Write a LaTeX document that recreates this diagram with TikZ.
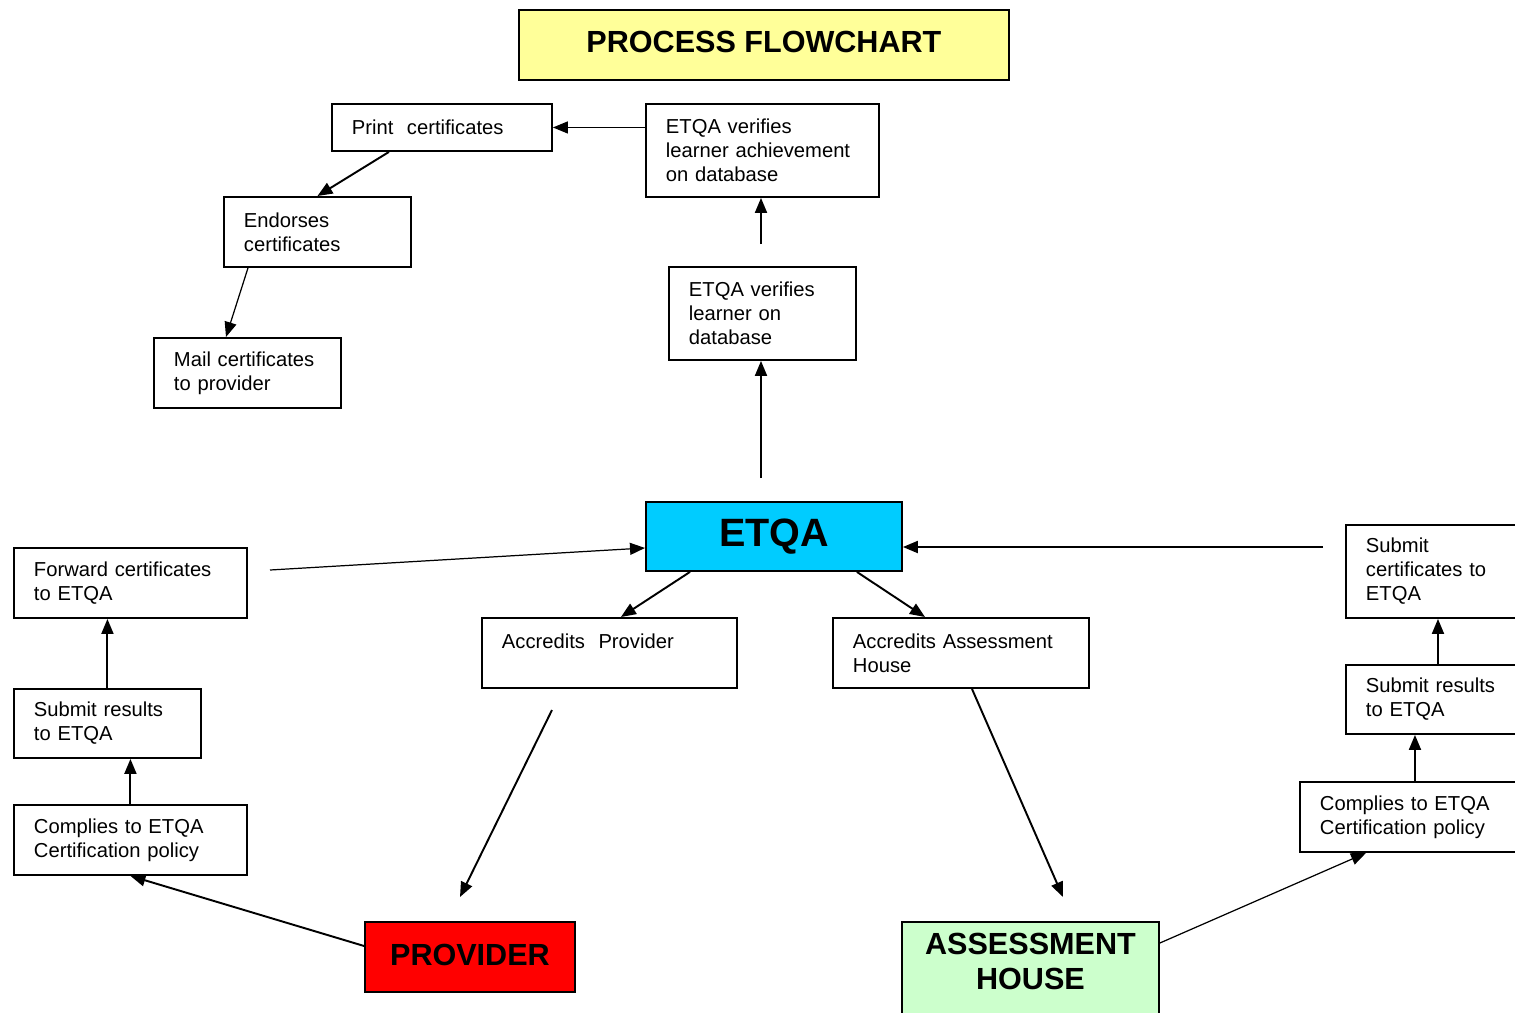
\documentclass[tikz,border=0pt]{standalone}
\usepackage{fontspec}
\setmainfont{Liberation Sans}
\usetikzlibrary{arrows.meta}
\definecolor{titleyellow}{HTML}{FFFF99}
\definecolor{etqablue}{HTML}{00CCFF}
\definecolor{provred}{HTML}{FF0000}
\definecolor{housegreen}{HTML}{CCFFCC}
\begin{document}
\begin{tikzpicture}[
		x={(0.02cm,0cm)},
		y={(0cm,-0.02cm)},
		box/.style={draw=black,line width=1.1pt,anchor=north west,align=left,inner xsep=0.4cm,inner ysep=0pt,font=\fontsize{11.5}{13.6}\selectfont},
		bigbox/.style={draw=black,line width=1.1pt,anchor=north west,align=center,font=\fontsize{17.4}{20}\selectfont\bfseries},
		arr/.style={-{Triangle[length=0.3cm,width=0.24cm]},line width=1.1pt},
		thinarr/.style={-{Triangle[length=0.3cm,width=0.24cm]},line width=0.7pt},
	]
		\useasboundingbox (0,0) rectangle (1515,1012);
		
		% title and main parties
		\node[bigbox,fill=titleyellow,minimum width=9.8cm,minimum height=1.4cm,text depth=0.12cm] (title) at (518,9) {PROCESS FLOWCHART};
		\node[bigbox,fill=etqablue,minimum width=5.12cm,minimum height=1.38cm,font=\fontsize{22.5}{26}\selectfont\bfseries] (etqa) at (645,501) {ETQA};
		\node[bigbox,fill=provred,minimum width=4.2cm,minimum height=1.4cm,text depth=0.1cm] (provider) at (364,921) {PROVIDER};
		\node[bigbox,fill=housegreen,minimum width=5.14cm,minimum height=2.28cm] (house) at (901,921) {ASSESSMENT\\HOUSE\\~};
		
		% upper steps
		\node[box,text width=3.6cm,minimum height=0.94cm] (print) at (331,103) {Print\ \ certificates};
		\node[box,text width=3.86cm,minimum height=1.86cm] (achieve) at (645,103) {ETQA verifies\\learner achievement\\on database};
		\node[box,text width=2.94cm,minimum height=1.4cm] (endorse) at (223,196) {Endorses\\certificates};
		\node[box,text width=2.94cm,minimum height=1.4cm] (mail) at (153,337) {Mail certificates\\to provider};
		\node[box,text width=2.94cm,minimum height=1.86cm] (verify) at (668,266) {ETQA verifies\\learner on\\database};
		
		% accreditation
		\node[box,text width=4.3cm,minimum height=1.4cm] (accprov) at (481,617) {Accredits\ \ Provider\\~};
		\node[box,text width=4.32cm,minimum height=1.4cm] (acchouse) at (832,617) {Accredits Assessment\\House};
		
		% provider side
		\node[box,text width=3.86cm,minimum height=1.4cm] (forward) at (13,547) {Forward certificates\\to ETQA};
		\node[box,text width=2.94cm,minimum height=1.38cm] (resultsl) at (13,688) {Submit results\\to ETQA};
		\node[box,text width=3.86cm,minimum height=1.4cm] (compliesl) at (13,804) {Complies to ETQA\\Certification policy};
		
		% assessment house side
		\node[box,text width=3.0cm,minimum height=1.86cm] (submit) at (1345,524) {Submit\\certificates to\\ETQA};
		\node[box,text width=3.0cm,minimum height=1.38cm] (resultsr) at (1345,664) {Submit results\\to ETQA};
		\node[box,text width=3.86cm,minimum height=1.4cm] (compliesr) at (1299,781) {Complies to ETQA\\Certification policy};
		
		% free arrow ends
		\coordinate (verifytail) at (761,244);
		\coordinate (etqatail) at (761,478);
		\coordinate (forwardtail) at (270,570);
		\coordinate (submittail) at (1323,547);
		\coordinate (provtail) at (552,710);
		\coordinate (provtip) at (460,897);
		\coordinate (housetip) at (1063,897);
		
		% connectors
		\draw[thinarr] (print.east -| achieve.west) -- (print.east);
		\draw[arr] ([xshift=-1.06cm]print.south) -- (endorse.north);
		\draw[thinarr] ([xshift=0.5cm]endorse.south west) -- ([xshift=1.46cm]mail.north west);
		\draw[arr] (verifytail) -- (verifytail |- achieve.south);
		\draw[arr] (etqatail) -- (etqatail |- verify.south);
		\draw[thinarr] (forwardtail) -- ([yshift=-0.23cm]etqa.west);
		\draw[arr] (submittail) -- (submittail -| etqa.east);
		\draw[arr] ([xshift=0.9cm]etqa.south west) -- ([xshift=0.23cm]accprov.north);
		\draw[arr] ([xshift=-0.92cm]etqa.south east) -- ([xshift=1.86cm]acchouse.north west);
		\draw[arr] (provtail) -- (provtip);
		\draw[arr] ([xshift=2.8cm]acchouse.south west) -- (housetip);
		\draw[arr] (resultsl.north) -- (resultsl.north |- forward.south);
		\draw[arr] (compliesl.north) -- (compliesl.north |- resultsl.south);
		\draw[arr] ([yshift=0.22cm]provider.west) -- (compliesl.south);
		\draw[thinarr] ([yshift=-0.44cm]house.north east) -- ([xshift=1.34cm]compliesr.south west);
		\draw[arr] ([xshift=2.32cm]compliesr.north west) -- ([xshift=2.32cm]compliesr.north west |- resultsr.south);
		\draw[arr] ([xshift=1.86cm]resultsr.north west) -- ([xshift=1.86cm]resultsr.north west |- submit.south);
	\end{tikzpicture}
\end{document}
